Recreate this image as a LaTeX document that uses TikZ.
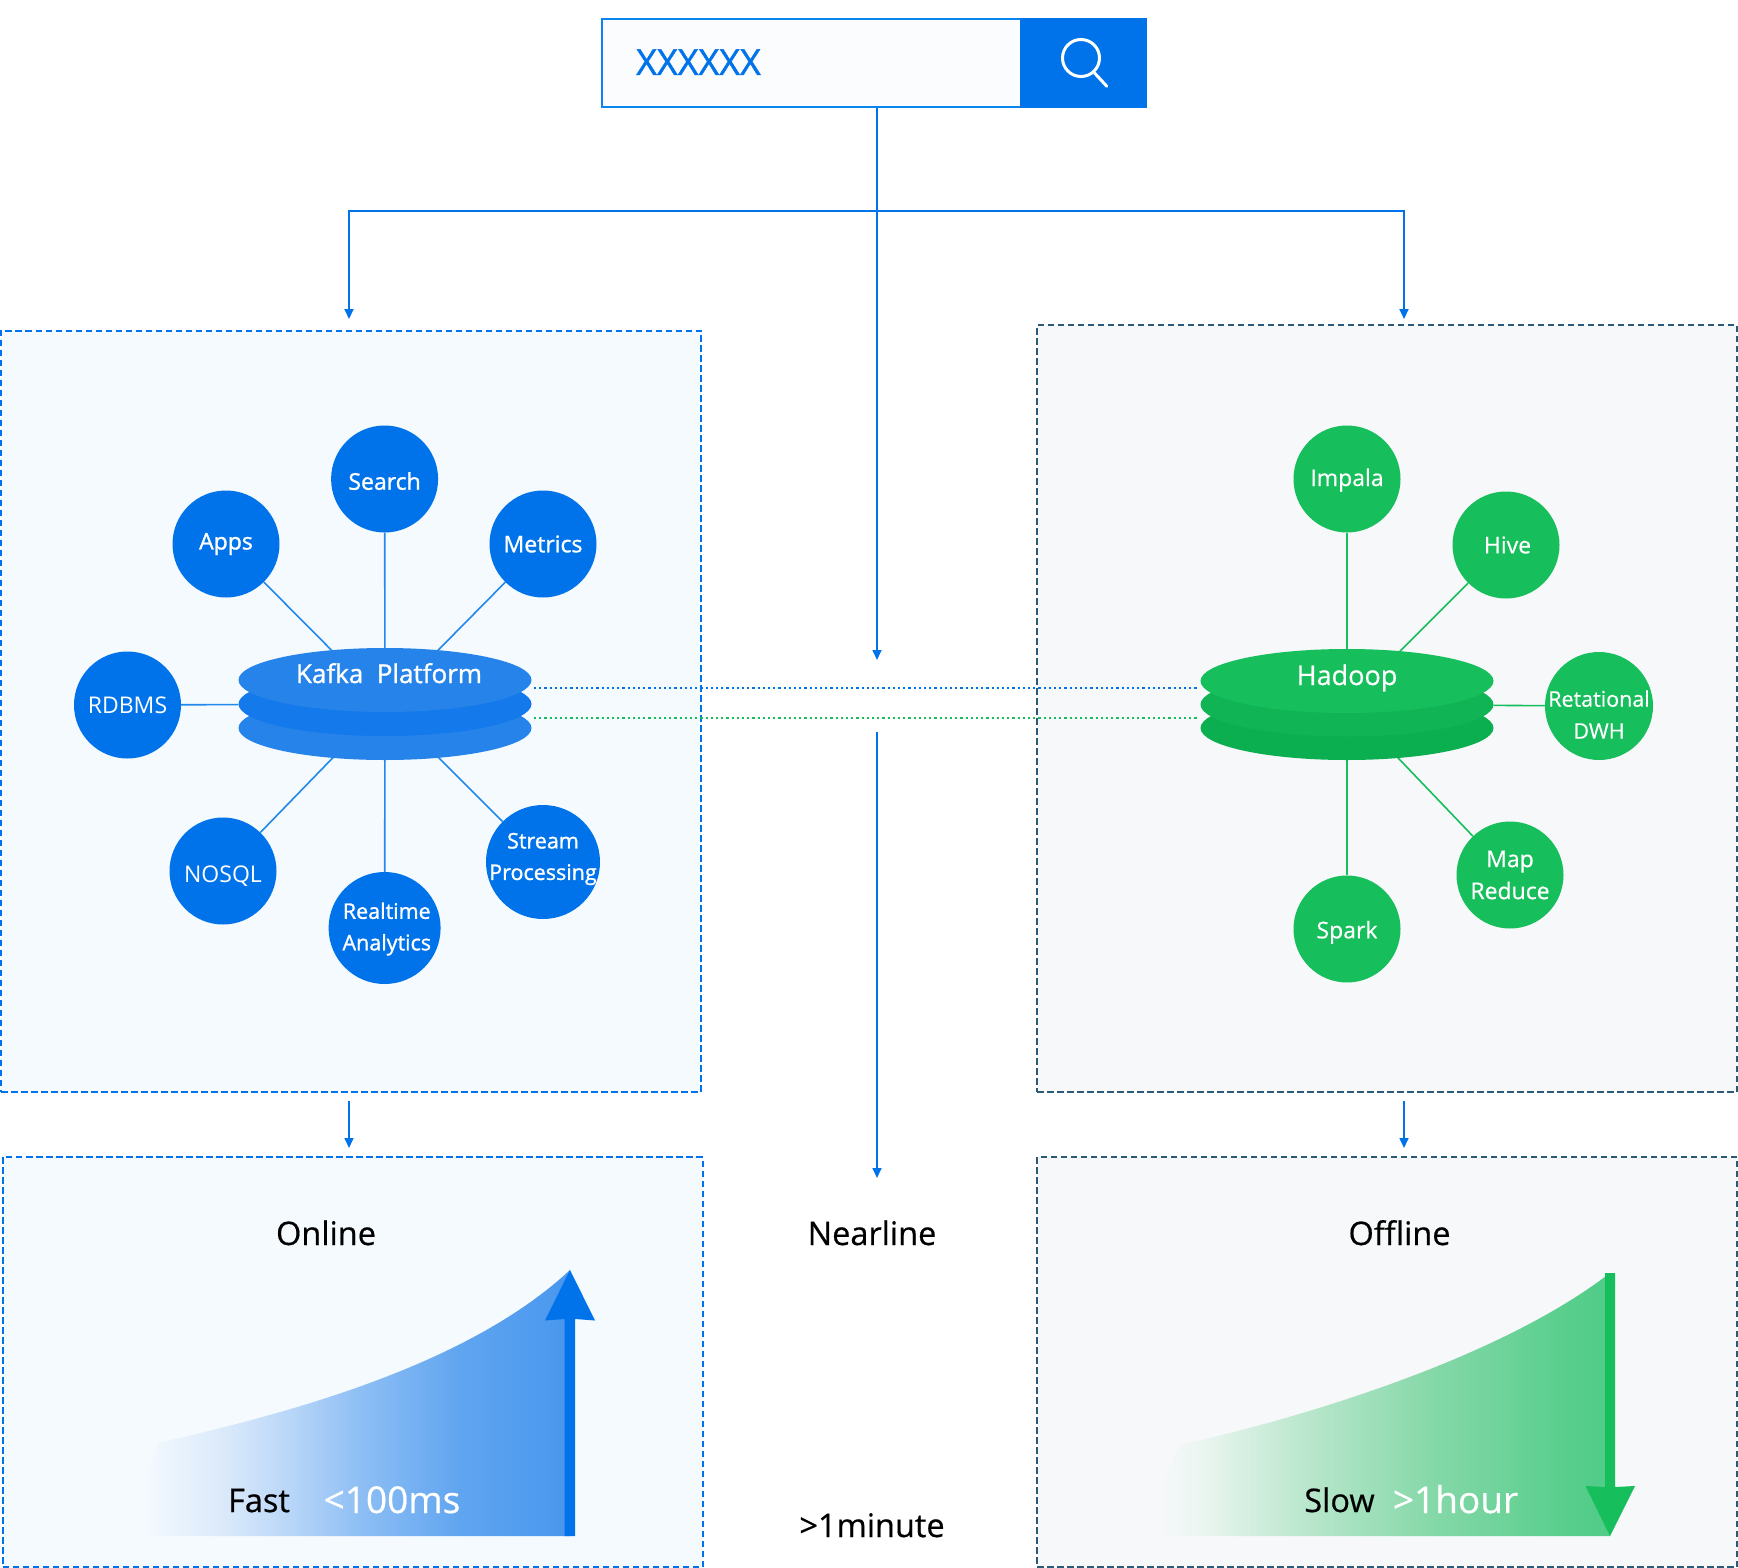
\documentclass[tikz,border=0pt]{standalone}
\usepackage{fontspec}
\setmainfont[FakeBold=0.5]{Open Sans}
\newfontfamily\semifont[FakeBold=1.2]{Open Sans}
\newfontfamily\lightfont{Open Sans}
\usetikzlibrary{arrows.meta,shapes.geometric}
\definecolor{blueA}{HTML}{0073EA}
\definecolor{blueB}{HTML}{0A84EE}
\definecolor{blueLine}{HTML}{2288EA}
\definecolor{greenA}{HTML}{17BE5C}
\definecolor{greenB}{HTML}{10B455}
\definecolor{greenC}{HTML}{0CAF50}
\definecolor{kafkaA}{HTML}{2583EA}
\definecolor{kafkaB}{HTML}{1479EA}
\definecolor{paleBlue}{HTML}{F5FAFE}
\definecolor{paleGrey}{HTML}{F6F8FA}
\definecolor{inputFill}{HTML}{FAFCFE}
\definecolor{darkDash}{HTML}{2A5A78}
\definecolor{bs1}{HTML}{D8E8FA}
\definecolor{bs2}{HTML}{B8D6F8}
\definecolor{bs3}{HTML}{8FBFF4}
\definecolor{bs4}{HTML}{60A5F0}
\definecolor{bs5}{HTML}{4897EE}
\definecolor{gs1}{HTML}{EAF5F0}
\definecolor{gs2}{HTML}{BEE8D0}
\definecolor{gs3}{HTML}{85D8A8}
\definecolor{gs4}{HTML}{58CE8C}
\definecolor{gs5}{HTML}{50CB88}
\pgfdeclarehorizontalshading{rampblue}{100bp}{color(0bp)=(paleBlue); color(26.8bp)=(paleBlue); color(36.9bp)=(bs1); color(43.6bp)=(bs2); color(51.2bp)=(bs3); color(62.6bp)=(bs4); color(75bp)=(bs5); color(100bp)=(bs5)}
\pgfdeclarehorizontalshading{rampgreen}{100bp}{color(0bp)=(paleGrey); color(27.2bp)=(paleGrey); color(31.8bp)=(gs1); color(41.6bp)=(gs2); color(56.1bp)=(gs3); color(70.6bp)=(gs4); color(75bp)=(gs5); color(100bp)=(gs5)}
\pgfdeclarelayer{panels}
\pgfdeclarelayer{edges}
\pgfsetlayers{panels,edges,main}
\newcommand{\fs}[1]{\fontsize{#1}{#1}\selectfont}
\tikzset{
  x=1pt,y=-1pt,
  panelblue/.style={draw=blueA,fill=paleBlue,line width=2pt,dash pattern=on 6.5pt off 3.5pt,rectangle,inner sep=0pt},
  panelgrey/.style={draw=darkDash,fill=paleGrey,line width=2pt,dash pattern=on 6.5pt off 3.5pt,rectangle,inner sep=0pt},
  flow/.style={draw=blueA,line width=1.6pt},
  flowarrow/.style={flow,-{Triangle[length=10pt,width=9pt]}},
  bluecirc/.style={circle,fill=blueA,text=white,inner sep=-15pt,minimum size=107pt,align=center,font=\fs{23}\semifont},
  bluecircplain/.style={bluecirc,font=\fs{23}\lightfont},
  greencirc/.style={circle,fill=greenA,text=white,inner sep=-15pt,minimum size=107pt,align=center,font=\fs{23}},
  disc/.style={ellipse,minimum width=293pt,minimum height=64pt,inner sep=0pt},
  bluespoke/.style={draw=blueLine,line width=1.6pt},
  greenspoke/.style={draw=greenA,line width=1.6pt},
  dotblue/.style={draw=blueA,line width=2pt,dash pattern=on 2.2pt off 3pt},
  dotgreen/.style={draw=greenA,line width=2pt,dash pattern=on 2.2pt off 3pt},
  lab/.style={anchor=base,inner sep=0pt,font=\fs{32.5}},
  big/.style={anchor=base,inner sep=0pt,font=\fs{37},text=white},
  circtxt/.style={anchor=center,inner sep=0pt,text=white,align=center},
}
\begin{document}
\begin{tikzpicture}
\useasboundingbox (0,0) rectangle (1738,1568);

% panels
\begin{pgfonlayer}{panels}
\fill[white] (0,0) rectangle (1738,1568);
\node[panelblue,minimum width=700pt,minimum height=761pt] (pOnlineTop) at (351,711) {};
\node[panelgrey,minimum width=700pt,minimum height=767pt] (pOfflineTop) at (1387,708.5) {};
\node[panelblue,minimum width=700pt,minimum height=410pt] (pOnline) at (352.5,1362) {};
\node[panelgrey,minimum width=700pt,minimum height=410pt] (pOffline) at (1387,1362) {};
\end{pgfonlayer}

% search bar
\node[draw=blueB,fill=inputFill,line width=2pt,minimum width=419pt,minimum height=88pt,inner sep=0pt] (input) at (811,62.7) {};
\node[fill=blueA,minimum width=127pt,minimum height=90pt,inner sep=0pt] (button) at (1083.5,62.7) {};
\node[anchor=base west,inner sep=0pt,text=blueA,font=\fs{36}\semifont] (query) at (636,75) {XXXXXX};
\node[circle,draw=white,line width=3pt,minimum size=37pt,inner sep=0pt] (lens) at (1081,58) {};
\draw[white,line width=3pt,line cap=round] (lens.-48) -- ++(12.5,13.5);

% flow connectors
\coordinate (hub) at (877,210.7);
\coordinate (leftEnd) at (349,319);
\coordinate (rightEnd) at (1404,319);
\coordinate (midEnd) at (877,660);
\coordinate (midStart) at (877,731.5);
\coordinate (midStop) at (877,1178);
\coordinate (lowLeftA) at (349,1101);
\coordinate (lowLeftB) at (349,1148);
\coordinate (lowRightA) at (1404,1101);
\coordinate (lowRightB) at (1404,1148);
\draw[flow] (hub |- input.south) -- (hub);
\draw[flowarrow,line width=2pt] (hub) -| (leftEnd);
\draw[flowarrow,line width=2pt] (hub) -| (rightEnd);
\draw[flowarrow] (hub) -- (midEnd);
\draw[flowarrow] (midStart) -- (midStop);
\draw[flowarrow] (lowLeftA) -- (lowLeftB);
\draw[flowarrow] (lowRightA) -- (lowRightB);

% Kafka stack
\node[disc,fill=kafkaA] (kafkaLow) at (385,728) {};
\node[disc,fill=kafkaB] (kafka) at (385,704) {};
\node[disc,fill=kafkaA] (kafkaTop) at (385,680) {};
\node[anchor=base,inner sep=0pt,text=white,font=\fs{26}\semifont] (kafkaText) at (389,683) {Kafka\ \ Platform};

\node[bluecirc] (search) at (384.6,479) {\raisebox{-2.2pt}[17pt][0pt]{Search}};
\node[bluecirc] (apps) at (226,544) {Apps};
\node[bluecirc] (metrics) at (543,544) {Metrics};
\node[bluecircplain] (rdbms) at (127.5,705) {RDBMS};
\node[bluecircplain] (nosql) at (223,871) {\raisebox{-3.3pt}[17pt][0pt]{NOSQL}};
\node[bluecirc,minimum size=112pt] (realtime) at (384.6,928) {};
\node[bluecirc,minimum size=114pt] (stream) at (543,862) {};
\node[circtxt,font=\fs{21.5}\semifont] (realtimeText) at (386.8,929) {Realtime\\[10pt]Analytics};
\node[circtxt,font=\fs{21.5}\semifont] (streamText) at (543,859) {Stream\\[10pt]Processing};

\begin{pgfonlayer}{edges}
\foreach \n in {search,apps,metrics,rdbms,nosql,realtime,stream}
  \draw[bluespoke] (\n) -- (kafka);
\end{pgfonlayer}

% Hadoop stack
\node[disc,fill=greenC] (hadoopLow) at (1347,728) {};
\node[disc,fill=greenB] (hadoop) at (1347,704.5) {};
\node[disc,fill=greenA] (hadoopTop) at (1347,681) {};
\node[anchor=base,inner sep=0pt,text=white,font=\fs{27}] (hadoopText) at (1347,685) {Hadoop};

\node[greencirc] (impala) at (1347,479) {\raisebox{-1pt}[17pt][5pt]{Impala}};
\node[greencirc] (hive) at (1506,545) {\hspace{3pt}Hive};
\node[greencirc,minimum size=108pt] (dwh) at (1599,706) {};
\node[greencirc] (mapr) at (1510,875) {Map\\[9pt]Reduce};
\node[greencirc] (spark) at (1347,929) {\raisebox{-3.3pt}[17pt][5pt]{Spark}};
\node[circtxt,font=\fs{21.5}] (dwhText) at (1599,714.5) {Retational\\[10.5pt]DWH};

\begin{pgfonlayer}{edges}
\foreach \n in {impala,hive,dwh,mapr,spark}
  \draw[greenspoke] (\n) -- (hadoop);
\end{pgfonlayer}

% dotted links
\coordinate (dotAL) at (534,688.3);
\coordinate (dotAR) at (1197,688.3);
\coordinate (dotBL) at (534,718.3);
\coordinate (dotBR) at (1197,718.3);
\draw[dotblue] (dotAL) -- (dotAR);
\draw[dotgreen] (dotBL) -- (dotBR);

% Online ramp
\shade[shading=rampblue,shading angle=0]
  (124,1536) -- (158,1443) .. controls (280,1415) and (465,1368) .. (570,1270) -- (570,1536) -- cycle;
\fill[blueA] (564.7,1536) -- (564.7,1319) -- (545,1320.5) -- (570,1270) -- (595,1320.5) -- (575,1319) -- (575,1536) -- cycle;

% Offline ramp
\shade[shading=rampgreen,shading angle=0]
  (1139,1536) -- (1180,1445) .. controls (1305,1417) and (1500,1358) .. (1610,1273) -- (1610,1536) -- cycle;
\fill[greenA] (1605,1273) -- (1605,1487) -- (1585.5,1486) -- (1610,1536) -- (1635,1486) -- (1615,1487) -- (1615,1273) -- cycle;

% labels
\node[lab] (online) at (326,1245) {Online};
\node[lab] (nearline) at (872,1245) {Nearline};
\node[lab] (offline) at (1399.5,1245) {Offline};
\node[lab] (fast) at (259,1512) {Fast};
\node[big] (fastv) at (392,1513) {<100ms};
\node[lab] (slow) at (1339.5,1512) {Slow};
\node[big] (slowv) at (1455.5,1513) {>1hour};
\node[lab] (nearv) at (872,1537) {>1minute};
\end{tikzpicture}
\end{document}
